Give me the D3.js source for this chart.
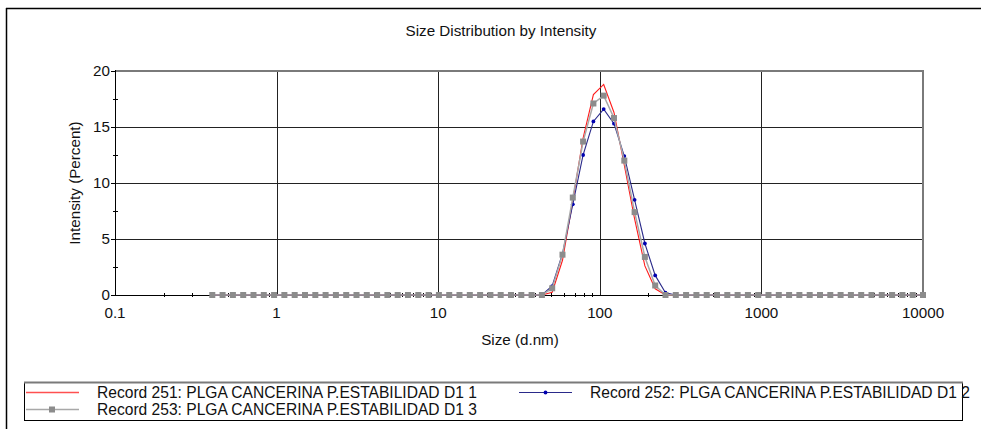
<!DOCTYPE html>
<html>
<head>
<meta charset="utf-8">
<script src="https://cdn.jsdelivr.net/npm/d3@7"></script>
<style>
  html, body { margin: 0; padding: 0; background: #fff; }
  svg { display: block; font-family: "Liberation Sans", Arial, sans-serif; }
</style>
</head>
<body>
<svg id="chart" width="985" height="429"></svg>
<script>
// size classes (d.nm), Zetasizer bins
const sizes = [0.4, 0.4632, 0.5365, 0.6213, 0.7195, 0.8332, 0.9649, 1.117, 1.294, 1.499,
  1.736, 2.01, 2.328, 2.696, 3.122, 3.615, 4.187, 4.849, 5.615, 6.503,
  7.531, 8.721, 10.1, 11.7, 13.54, 15.69, 18.17, 21.04, 24.36, 28.21,
  32.67, 37.84, 43.82, 50.75, 58.77, 68.06, 78.82, 91.28, 105.7, 122.4,
  141.8, 164.2, 190.1, 220.2, 255.0, 295.3, 342.0, 396.1, 458.7, 531.2,
  615.1, 712.4, 825.0, 955.4, 1106, 1281, 1484, 1718, 1990, 2305,
  2669, 3091, 3580, 4145, 4801, 5560, 6439, 7456, 8635, 10000];

// intensity (%) per size class
const rec251 = [0,0,0,0,0,0,0,0,0,0, 0,0,0,0,0,0,0,0,0,0, 0,0,0,0,0,0,0,0,0,0,
  0,0,0, 0.25, 3.1, 8.4, 14.0, 17.9, 18.8, 16.3, 11.6, 6.8, 2.6, 0.55, 0, 0,
  0,0,0,0, 0,0,0,0,0,0,0,0,0,0, 0,0,0,0,0,0,0,0,0,0];
const rec252 = [0,0,0,0,0,0,0,0,0,0, 0,0,0,0,0,0,0,0,0,0, 0,0,0,0,0,0,0,0,0,0,
  0,0,0, 0.8, 3.7, 8.1, 12.5, 15.5, 16.6, 15.3, 12.4, 8.5, 4.6, 1.75, 0.2, 0,
  0,0,0,0, 0,0,0,0,0,0,0,0,0,0, 0,0,0,0,0,0,0,0,0,0];
const rec253 = [0,0,0,0,0,0,0,0,0,0, 0,0,0,0,0,0,0,0,0,0, 0,0,0,0,0,0,0,0,0,0,
  0,0,0, 0.6, 3.6, 8.7, 13.7, 17.1, 17.8, 15.8, 12.0, 7.4, 3.4, 0.85, 0, 0,
  0,0,0,0, 0,0,0,0,0,0,0,0,0,0, 0,0,0,0,0,0,0,0,0,0];

const xTicks = [0.1, 1, 10, 100, 1000, 10000];
const yTicks = [0, 5, 10, 15, 20];
const yMinor = [2.5, 7.5, 12.5, 17.5];
const legendNames = [
  'Record 251: PLGA CANCERINA P.ESTABILIDAD D1 1',
  'Record 252: PLGA CANCERINA P.ESTABILIDAD D1 2',
  'Record 253: PLGA CANCERINA P.ESTABILIDAD D1 3'
];

const svg = d3.select('#chart');
const m = { left: 115, right: 923, top: 71, bottom: 295 };
const fs = 15.2;

const x = d3.scaleLog().domain([0.1, 10000]).range([m.left, m.right]);
const y = d3.scaleLinear().domain([0, 20]).range([m.bottom, m.top]);

// outer frame (top and left edges only visible)
svg.append('line').attr('x1', 6).attr('x2', 981).attr('y1', 8.5).attr('y2', 8.5)
  .attr('stroke', '#000').attr('stroke-width', 1.5);
svg.append('line').attr('x1', 6.5).attr('x2', 6.5).attr('y1', 8).attr('y2', 429)
  .attr('stroke', '#000').attr('stroke-width', 1.5);

svg.append('text').attr('x', 501).attr('y', 36).attr('text-anchor', 'middle')
  .attr('font-size', fs).attr('fill', '#111').text('Size Distribution by Intensity');

// grid
const grid = svg.append('g');
grid.selectAll('.vg').data(xTicks.slice(1, -1)).join('line')
  .attr('x1', d => Math.round(x(d)) + 0.5).attr('x2', d => Math.round(x(d)) + 0.5)
  .attr('y1', m.top).attr('y2', m.bottom).attr('stroke', '#222');
grid.selectAll('.hg').data(yTicks.slice(1, -1)).join('line')
  .attr('x1', m.left).attr('x2', m.right)
  .attr('y1', d => Math.round(y(d)) + 0.5).attr('y2', d => Math.round(y(d)) + 0.5)
  .attr('stroke', '#222');

// top and right frame, gray
svg.append('path')
  .attr('d', `M${m.left},${m.top}H${m.right}V${m.bottom}`)
  .attr('fill', 'none').attr('stroke', '#7a7a7a').attr('stroke-width', 2);

// axes lines
svg.append('line').attr('x1', m.left + 0.5).attr('x2', m.left + 0.5)
  .attr('y1', m.top - 1).attr('y2', m.bottom + 1).attr('stroke', '#000');
svg.append('line').attr('x1', m.left).attr('x2', m.right)
  .attr('y1', m.bottom + 0.5).attr('y2', m.bottom + 0.5).attr('stroke', '#000');

// y ticks
svg.selectAll('.yt').data(yTicks).join('line')
  .attr('x1', m.left - 4).attr('x2', m.left)
  .attr('y1', d => Math.round(y(d)) + 0.5).attr('y2', d => Math.round(y(d)) + 0.5)
  .attr('stroke', '#000');
svg.selectAll('.ym').data(yMinor).join('line')
  .attr('x1', m.left - 2).attr('x2', m.left + 3)
  .attr('y1', d => Math.round(y(d)) + 0.5).attr('y2', d => Math.round(y(d)) + 0.5)
  .attr('stroke', '#000');
svg.selectAll('.yl').data(yTicks).join('text')
  .attr('x', m.left - 5).attr('y', d => y(d) + 5)
  .attr('text-anchor', 'end').attr('font-size', fs).attr('fill', '#111')
  .text(d => d);

// x minor ticks
const xMinor = [];
xTicks.slice(0, -1).forEach(t => { for (let k = 2; k < 10; k++) xMinor.push(t * k); });
svg.selectAll('.xm').data(xMinor).join('line')
  .attr('x1', d => Math.round(x(d)) + 0.5).attr('x2', d => Math.round(x(d)) + 0.5)
  .attr('y1', m.bottom - 2).attr('y2', m.bottom + 2).attr('stroke', '#000');
svg.selectAll('.xl').data(xTicks).join('text')
  .attr('x', d => x(d)).attr('y', m.bottom + 23)
  .attr('text-anchor', 'middle').attr('font-size', fs).attr('fill', '#111')
  .text(d => d);

svg.append('text').attr('x', 520).attr('y', 345).attr('text-anchor', 'middle')
  .attr('font-size', fs).attr('fill', '#111').text('Size (d.nm)');
svg.append('text').attr('transform', `translate(80,${(m.top + m.bottom) / 2}) rotate(-90)`)
  .attr('text-anchor', 'middle').attr('font-size', fs).attr('fill', '#111')
  .text('Intensity (Percent)');

// series
const line = d3.line().x(d => x(d[0])).y(d => y(d[1]));
const pts = vals => sizes.map((s, i) => [s, vals[i]]);

svg.append('path').datum(pts(rec251)).attr('d', line)
  .attr('fill', 'none').attr('stroke', '#ff1a1a').attr('stroke-width', 1.1);

svg.append('path').datum(pts(rec252)).attr('d', line)
  .attr('fill', 'none').attr('stroke', '#2a2a8a').attr('stroke-width', 1.1);
svg.selectAll('.bd').data(pts(rec252)).join('circle')
  .attr('cx', d => x(d[0])).attr('cy', d => y(d[1])).attr('r', 1.9)
  .attr('fill', '#0000b0');

svg.append('path').datum(pts(rec253)).attr('d', line)
  .attr('fill', 'none').attr('stroke', '#a8a8a8').attr('stroke-width', 1.5);
svg.selectAll('.gs').data(pts(rec253)).join('rect')
  .attr('x', d => x(d[0]) - 3).attr('y', d => y(d[1]) - 3)
  .attr('width', 6).attr('height', 6).attr('fill', '#8c8c8c');

// legend
const lg = svg.append('g');
lg.append('rect').attr('x', 24.5).attr('y', 382.5).attr('width', 938).attr('height', 38)
  .attr('fill', '#fff').attr('stroke', '#000');
lg.append('line').attr('x1', 24).attr('x2', 963).attr('y1', 382.5).attr('y2', 382.5)
  .attr('stroke', '#7a7a7a').attr('stroke-width', 2);

const legendPos = [[26, 392], [519, 392], [26, 409]];
const legendStyle = [
  { stroke: '#ff5050', w: 1.6, mark: null },
  { stroke: '#2a2a8a', w: 1.2, mark: 'dot' },
  { stroke: '#a8a8a8', w: 1.5, mark: 'sq' }
];
legendNames.forEach((name, i) => {
  const [lx, ly] = legendPos[i];
  const st = legendStyle[i];
  lg.append('line').attr('x1', lx).attr('x2', lx + 53).attr('y1', ly + 0.5).attr('y2', ly + 0.5)
    .attr('stroke', st.stroke).attr('stroke-width', st.w);
  if (st.mark === 'dot') {
    lg.append('circle').attr('cx', lx + 26.5).attr('cy', ly + 0.5).attr('r', 1.9).attr('fill', '#0000b0');
  } else if (st.mark === 'sq') {
    lg.append('rect').attr('x', lx + 23).attr('y', ly - 2.5).attr('width', 6).attr('height', 6).attr('fill', '#8c8c8c');
  }
  lg.append('text').attr('x', lx + 71).attr('y', ly + 5.5)
    .attr('font-size', 15.6).attr('fill', '#111').text(name);
});
</script>
</body>
</html>
